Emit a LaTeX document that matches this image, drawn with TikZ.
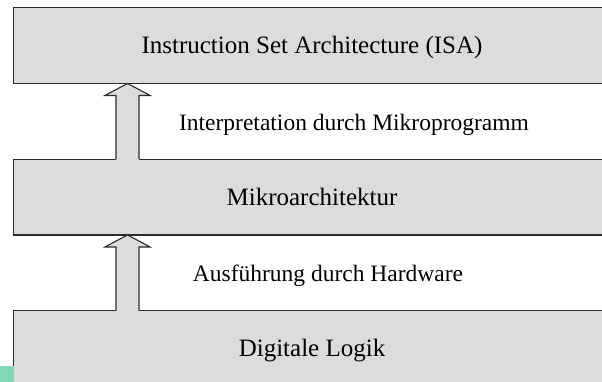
\documentclass[tikz,border=0pt]{standalone}
\usepackage{fontspec}
\setmainfont{Liberation Serif}
\definecolor{layerfill}{HTML}{DCDCDC}
\definecolor{layerline}{HTML}{2A2A2A}
\definecolor{cornertab}{HTML}{84D8B4}
\begin{document}
\begin{tikzpicture}[x=1bp,y=-1bp,
  layer/.style={fill=layerfill, minimum width=596bp, minimum height=75.5bp,
    inner sep=0pt, text height=16.5bp, text depth=0pt,
    font=\fontsize{25bp}{30bp}\selectfont},
  layeredge/.style={draw=layerline, line width=1.1bp},
  steplabel/.style={anchor=base, inner sep=0pt, font=\fontsize{23.5bp}{28bp}\selectfont},
  blockarrow/.style={draw=layerline, line width=1.1bp, line join=miter}
]
\useasboundingbox (0,0) rectangle (602,381);
\begin{scope}
\clip (0,0) rectangle (606,385);

% the three abstraction layers (they run on past the right margin)
\node[layer] (isa)   at (312,45.5)  {Instruction Set Architecture (ISA)};
\node[layer] (micro) at (312,197)   {Mikroarchitektur};
\node[layer] (logic) at (312,348.5) {Digitale Logik};
\foreach \n in {isa, micro, logic}
  \draw[layeredge] ([xshift=30bp]\n.north east) -- (\n.north west)
                -- (\n.south west) -- ([xshift=30bp]\n.south east);

% hollow block arrows from each layer up to the next
\foreach \lower/\upper in {micro/isa, logic/micro}{
  \path (\upper.south -| 127.5,0) coordinate (tip-\upper)
        (\lower.north -| 127.5,0) coordinate (base-\upper);
  \fill[layerfill] ([xshift=-11.5bp,yshift=-1bp]base-\upper) -- ([xshift=-11.5bp,yshift=-12bp]tip-\upper)
     -- ([xshift=-22.5bp,yshift=-12bp]tip-\upper) -- (tip-\upper)
     -- ([xshift=22.5bp,yshift=-12bp]tip-\upper) -- ([xshift=11.5bp,yshift=-12bp]tip-\upper)
     -- ([xshift=11.5bp,yshift=-1bp]base-\upper) -- cycle;
  \draw[blockarrow] ([xshift=-11.5bp]base-\upper) -- ([xshift=-11.5bp,yshift=-12bp]tip-\upper)
     -- ([xshift=-22.5bp,yshift=-12bp]tip-\upper) -- (tip-\upper)
     -- ([xshift=22.5bp,yshift=-12bp]tip-\upper) -- ([xshift=11.5bp,yshift=-12bp]tip-\upper)
     -- ([xshift=11.5bp]base-\upper);
}

% arrow captions
\node[steplabel] (interp) at (354,130) {Interpretation durch Mikroprogramm};
\node[steplabel] (exec)   at (328,281) {Ausführung durch Hardware};

% small tab in the lower left corner
\fill[cornertab] (0,366) rectangle (13.5,385);
\end{scope}
\end{tikzpicture}
\end{document}
